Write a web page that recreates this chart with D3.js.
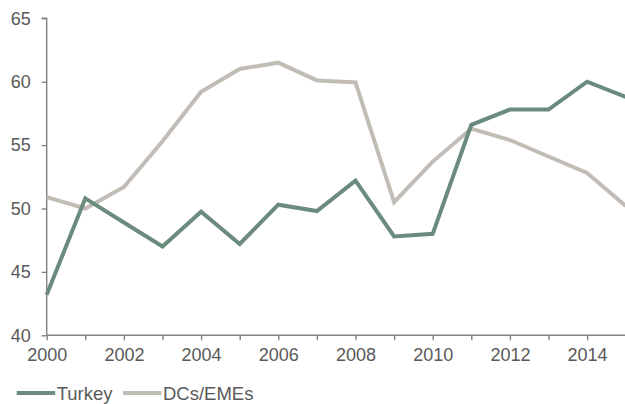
<!DOCTYPE html>
<html>
<head>
<meta charset="utf-8">
<script src="https://cdn.jsdelivr.net/npm/d3@7"></script>
<style>
  html, body { margin: 0; padding: 0; background: #fff; }
  svg { display: block; font-family: "Liberation Sans", Arial, sans-serif; }
</style>
</head>
<body>
<svg id="chart" width="625" height="404"></svg>
<script>
// Annual series, 2000–2015
const years = d3.range(2000, 2016);
const turkey = [43.2, 50.8, 48.9, 47.0, 49.75, 47.2, 50.3, 49.8, 52.2, 47.8, 48.0, 56.6, 57.8, 57.8, 60.0, 58.8];
const dcsEmes = [50.9, 50.0, 51.7, 55.3, 59.2, 61.0, 61.5, 60.1, 59.95, 50.5, 53.7, 56.3, 55.4, 54.1, 52.8, 50.2];
const yTicks = [40, 45, 50, 55, 60, 65];
const xTickLabels = [2000, 2002, 2004, 2006, 2008, 2010, 2012, 2014];

const seriesNames = ["Turkey", "DCs/EMEs"];
const seriesColors = ["#6b8b7c", "#c2bcb7"];

const svg = d3.select("#chart");
const textColor = "#595959";
const axisColor = "#828282";

const x = d3.scaleLinear().domain([2000, 2015]).range([46.7, 625.7]);
const y = d3.scaleLinear().domain([40, 65]).range([335.3, 18.3]);

// Y axis
const yAxis = svg.append("g")
  .attr("transform", `translate(${x(2000)},0)`)
  .call(d3.axisLeft(y).tickValues(yTicks).tickSize(5).tickPadding(11).tickFormat(d3.format("d")));

// X axis: a tick every year, labels every second year
const xAxis = svg.append("g")
  .attr("transform", `translate(0,${y(40)})`)
  .call(d3.axisBottom(x).tickValues(years).tickSize(5).tickPadding(8)
    .tickFormat(d => xTickLabels.includes(d) ? String(d) : ""));

[yAxis, xAxis].forEach(g => {
  g.select(".domain").attr("stroke", axisColor).attr("stroke-width", 1.4);
  g.selectAll(".tick line").attr("stroke", axisColor).attr("stroke-width", 1.4);
  g.selectAll(".tick text").attr("fill", textColor).attr("font-size", 18)
    .attr("font-family", "Liberation Sans, Arial, sans-serif");
});
yAxis.select(".domain").attr("d", `M0,${y(40)}V${y(65)}H-5`);
xAxis.select(".domain").attr("d", `M${x(2000)},0H${x(2015)}`);

const line = d3.line().x((d, i) => x(years[i])).y(d => y(d));

const plot = svg.append("g");
// Draw the grey series first so Turkey sits on top
[[dcsEmes, seriesColors[1]], [turkey, seriesColors[0]]].forEach(([vals, col]) => {
  plot.append("path")
    .datum(vals)
    .attr("d", line)
    .attr("fill", "none")
    .attr("stroke", col)
    .attr("stroke-width", 4)
    .attr("stroke-linejoin", "miter");
});

// Legend
const legend = svg.append("g").attr("transform", "translate(0,393)");
const legendX = [16.7, 123];
seriesNames.forEach((name, i) => {
  const g = legend.append("g").attr("transform", `translate(${legendX[i]},0)`);
  g.append("line").attr("x1", 0).attr("x2", 38.5).attr("y1", 0).attr("y2", 0)
    .attr("stroke", seriesColors[i]).attr("stroke-width", 4);
  g.append("text").attr("x", 40).attr("y", 6.5)
    .attr("fill", textColor).attr("font-size", 18.5)
    .text(name);
});
</script>
</body>
</html>
